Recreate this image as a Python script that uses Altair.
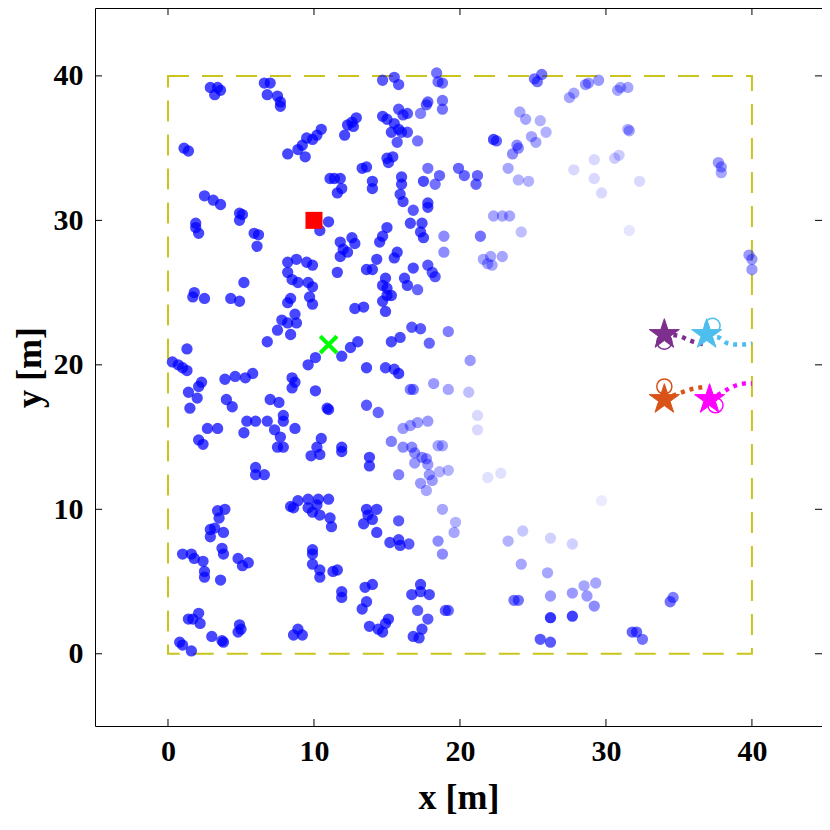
import altair as alt
import pandas as pd

# ---------------- data ----------------
# (x, y, alpha) ; alpha omitted -> fully drawn (0.72)
dots_top_left = [
    (2.9,39.2),(3.4,39.2),(3.2,38.7),(3.6,39.0),
    (6.6,39.5),(7.0,39.5),(6.8,38.7),(7.5,38.6),(7.7,38.2),(7.7,37.9),
    (1.1,35.0),(1.4,34.8),
    (8.2,34.6),(8.9,34.9),(9.4,34.4),(9.5,35.7),(9.2,35.2),
    (2.5,31.7),(3.1,31.4),(3.6,31.1),
    (4.9,30.5),(5.1,30.4),(4.9,30.0),
    (1.9,29.8),(1.9,29.5),(2.1,29.1),
    (5.9,29.1),(6.2,29.0),(6.1,28.2),
    (8.2,27.1),(8.8,27.3),(9.5,27.1),
]
dots_top_mid = [
    (14.7,39.7,0.65),(15.5,39.9,0.65),(15.8,39.4,0.65),
    (18.4,40.2,0.55),(18.5,39.6,0.55),(18.8,39.5,0.55),
    (18.8,38.3,0.55),(18.8,37.7,0.55),(17.8,38.2,0.6),(17.7,38.0,0.6),
    (15.8,37.7,0.65),(16.1,37.3,0.65),(16.4,37.4,0.65),(17.3,37.4,0.5),
    (14.7,37.2,0.7),(15.0,37.0,0.7),(15.5,36.7,0.7),(15.3,36.1,0.7),(15.8,36.3,0.7),
    (16.0,36.1,0.65),(16.4,36.1,0.65),(15.7,35.4,0.65),(17.1,35.5,0.55),
    (12.9,37.1),(12.6,36.8),(12.3,36.6),(12.7,36.5),(12.1,35.9),
    (10.5,36.3),(10.2,35.9),(9.9,35.6),
    (15.0,34.3,0.7),(15.4,34.4,0.7),(15.1,34.0,0.7),
    (13.3,33.6),(13.6,33.7),
    (11.1,32.9),(11.4,32.9),(11.8,32.9),(11.9,32.2),(11.6,31.9),
    (14.0,32.7),(14.0,32.2),
    (16.0,33.0,0.7),(16.0,32.5,0.7),(15.9,31.8,0.7),(16.1,31.3,0.7),(16.8,30.7,0.65),
    (17.5,32.7,0.7),(18.3,32.5,0.55),(18.6,33.1,0.6),(17.8,33.6,0.55),
    (17.8,31.2,0.7),(17.8,30.9,0.7),
    (16.6,29.8,0.7),(17.4,29.8,0.7),(17.3,29.2,0.7),(17.5,28.8,0.7),
    (18.9,28.9,0.45),(18.9,27.8,0.45),
    (11.0,29.9),(10.4,29.3),
    (15.0,29.5),(14.7,28.9),(14.5,28.5),
    (11.8,28.5),(12.6,28.8),(12.8,28.4),(12.0,28.0),(12.3,27.8),(11.8,27.5),
    (15.7,27.8),(15.5,27.4),(14.3,27.3),
]
dots_top_right = [
    (25.1,39.8,0.55),(25.6,40.1,0.55),(25.3,39.6,0.55),
    (27.5,38.5,0.35),(27.8,38.8,0.35),
    (28.6,39.4,0.4),(28.8,39.5,0.4),(29.5,39.7,0.4),
    (24.1,37.5,0.35),(24.5,37.0,0.35),
    (25.5,36.9,0.3),(25.9,36.1,0.3),
    (24.9,35.8,0.35),(25.2,35.4,0.35),
    (22.3,35.6,0.7),(22.5,35.5,0.6),
    (23.9,35.2,0.45),(24.0,35.0,0.45),(23.6,34.6,0.45),
    (23.3,33.6,0.35),
    (24.0,32.8,0.3),(24.7,32.7,0.3),
    (19.9,33.6,0.6),(20.3,33.1,0.6),(21.2,33.1,0.6),(21.1,32.5,0.6),
    (27.8,33.5,0.15),(29.2,34.2,0.15),(29.2,32.9,0.15),(29.7,31.9,0.15),
    (22.3,30.3,0.35),(22.9,30.3,0.35),(23.4,30.3,0.35),
    (24.2,29.2,0.25),
    (21.4,28.9,0.55),
    (21.6,27.3,0.35),(22.1,27.5,0.35),(22.9,27.5,0.35),(21.9,27.0,0.35),(22.2,26.9,0.35),
    (30.8,39.0,0.35),(31.0,39.2,0.35),(31.5,39.2,0.35),
    (31.6,36.2,0.35),(31.5,36.3,0.3),
    (30.6,34.3,0.2),(30.9,34.5,0.2),
    (32.3,32.7,0.15),
    (31.6,29.3,0.1),
    (37.7,34.0,0.4),(37.9,33.7,0.4),(37.9,33.3,0.35),
    (39.8,27.6,0.4),(40.0,27.3,0.4),(40.0,26.6,0.4),
]
dots_mid_left = [
    (9.9,26.9),(11.6,26.4),
    (8.2,26.4),(8.5,25.9),(8.9,25.7),
    (5.2,25.7),
    (1.8,25.0),(1.7,24.7),(2.5,24.6),
    (4.3,24.6),(4.9,24.4),
    (8.4,24.6),(8.2,24.3),
    (8.7,23.5),(7.8,23.1),(8.2,22.9),(8.8,22.9),(8.4,22.1),(7.5,22.4),(6.8,21.6),
    (1.3,21.1),
    (0.3,20.2),(0.7,20.0),(1.0,19.8),(1.3,19.6),
    (2.3,18.8),(2.1,18.5),(1.4,18.1),(2.0,17.7),(1.5,17.0),
    (3.9,19.0),(4.6,19.2),(5.3,19.1),(5.8,19.4),
    (4.0,17.6),(4.4,17.1),
    (7.0,17.6),(7.6,17.4),
    (8.5,19.1),(8.7,18.8),(8.5,18.4),
    (7.9,16.5),(7.9,16.1),
    (8.7,15.6),
    (5.4,16.1),(6.0,16.1),(6.8,16.1),(5.2,15.3),
    (2.7,15.6),(3.4,15.6),
    (2.1,14.8),(2.4,14.5),
    (7.3,15.5),(7.7,15.0),(7.9,14.3),(7.5,14.3),
]
dots_mid_mid = [
    (16.8,26.7,0.7),(17.8,26.9,0.65),(18.1,26.4,0.65),(18.3,26.1,0.65),
    (13.6,26.6),(14.0,26.6),
    (16.2,26.0,0.7),(16.4,25.5,0.7),
    (17.1,25.2,0.6),
    (14.9,26.0),(14.7,25.5),(15.0,25.3),(15.0,24.8),(15.3,24.8),(14.7,24.4),(14.9,23.7),
    (9.9,25.4),(9.6,25.7),(9.7,24.7),(9.9,24.2),
    (12.8,23.9),(13.4,24.0),
    (10.1,20.5),(9.6,20.0),
    (11.9,20.6),(12.5,21.2),(13.0,21.6),
    (13.6,19.8),
    (15.3,21.6,0.7),(15.9,21.9,0.7),(16.7,22.6,0.65),(17.3,22.5,0.65),(17.9,21.5,0.6),(19.2,22.3,0.5),
    (14.9,19.8,0.7),(15.5,19.7,0.7),(15.8,19.4,0.75),
    (16.6,18.3,0.5),(16.8,18.3,0.5),(18.2,18.7,0.4),(19.2,18.3,0.35),
    (10.1,18.2),
    (10.9,17.0),(11.0,16.9),
    (13.6,17.2,0.65),(14.4,16.7,0.6),
    (16.1,15.6,0.4),(16.6,15.8,0.4),(17.1,16.0,0.4),(17.8,16.1,0.4),
    (10.5,14.9),
    (10.2,14.3),(9.8,13.7),(10.4,13.8),
    (11.9,14.3),
    (13.8,13.6),
    (15.3,14.7,0.5),
    (16.1,14.3,0.45),(16.7,14.3,0.45),(16.9,13.9,0.45),(17.4,13.6,0.45),
    (18.5,14.4,0.35),(18.8,14.4,0.35),
    (20.7,20.3,0.4),(20.6,18.1,0.25),(21.2,16.5,0.15),(21.2,15.5,0.15),
]
dots_low_left = [
    (6.0,12.9),(6.0,12.4),(6.6,12.4),
    (8.4,10.2),(8.6,10.1),(8.9,10.6),
    (3.4,9.9),(3.9,10.0),(3.5,9.4),
    (2.9,8.6),(3.2,8.7),(2.9,8.1),(3.8,8.4),
    (1.0,6.9),(1.6,6.9),(1.8,6.6),(2.4,6.4),
    (2.5,5.7),(2.5,5.3),(3.6,5.1),
    (3.7,7.3),(3.8,6.9),
    (4.8,6.6),(5.1,6.1),(5.5,6.3),
    (2.1,2.8),(1.4,2.4),(1.7,2.4),(2.2,2.1),
    (4.9,2.0),(4.8,1.5),(5.0,1.7),
    (3.0,1.2),(3.7,0.9),(3.8,0.8),
    (0.8,0.8),(1.0,0.6),(1.6,0.2),
    (8.6,1.3),(8.9,1.7),(9.2,1.3),
]
dots_low_mid = [
    (11.9,14.0),(13.8,13.0),
    (15.8,12.4,0.5),
    (16.9,13.2,0.4),(17.7,13.5,0.4),(17.8,13.1,0.4),(17.9,12.4,0.4),(18.1,12.0,0.4),
    (17.3,11.8,0.4),(17.7,11.3,0.35),(18.6,12.6,0.3),(19.2,12.7,0.3),
    (18.8,10.0,0.35),(19.7,9.1,0.3),(19.6,8.4,0.35),
    (18.5,7.8,0.45),(18.8,6.9,0.45),
    (9.6,10.7),(10.3,10.7),(11.0,10.7),(9.6,10.1),(10.2,10.3),(9.9,9.8),(10.4,9.6),(11.1,9.4),(11.2,8.8),
    (13.6,10.0),(14.3,10.0),(13.7,9.6),(14.0,9.3),(13.4,9.0),(14.3,8.4),
    (15.8,9.2,0.65),
    (15.2,7.7,0.7),(15.8,7.9,0.7),(15.9,7.5,0.7),(16.5,7.6,0.65),
    (9.9,7.2),(9.9,6.9),(9.9,6.2),
    (10.4,5.8),(10.4,5.3),(11.3,5.7),(11.6,5.8),
    (11.9,4.3),(11.9,3.9),
    (13.5,4.6),(14.0,4.8),
    (13.6,3.6),(13.3,3.1),
    (13.8,1.9),(14.4,1.7),(14.7,1.5),(15.1,2.4),(14.9,2.1),
    (17.3,4.8,0.7),(16.7,4.1,0.7),(17.9,4.1,0.7),(17.3,4.3,0.7),
    (17.1,3.0,0.65),(17.8,2.4,0.65),(17.4,1.7,0.7),(16.8,1.2,0.7),(17.2,1.1,0.7),
    (19.0,3.0,0.6),(19.2,3.0,0.6),
]
dots_low_right = [
    (21.9,12.2,0.12),(22.8,12.5,0.12),
    (29.7,10.6,0.08),
    (23.3,7.8,0.3),(24.3,8.5,0.22),
    (26.2,8.0,0.18),(27.7,7.6,0.18),
    (24.2,6.2,0.35),
    (26.0,5.6,0.35),
    (23.7,3.7,0.55),(24.0,3.7,0.55),
    (26.2,4.0,0.4),
    (26.2,2.5,0.8),
    (27.7,4.2,0.4),(28.5,4.7,0.35),(29.3,4.9,0.35),(28.7,4.0,0.4),(29.2,3.3,0.45),
    (27.7,2.6,0.75),
    (25.5,1.0,0.65),(26.2,0.8,0.65),
    (34.4,3.6,0.55),(34.6,3.9,0.5),
    (31.8,1.5,0.6),(32.1,1.5,0.6),(32.5,1.0,0.55),
]

area_x = [0, 40]
area_y = [0, 40]
anchor_x, anchor_y = [10.0], [30.0]       # red square
target_x, target_y = [11.0], [21.4]       # green cross

agent_names = ["purple", "blue", "orange", "magenta"]
agent_colors = ["#7E2F8E", "#4DBEEE", "#D95319", "#FF00FF"]
star_x = [34.0, 36.9, 34.0, 37.1]
star_y = [22.1, 22.1, 17.6, 17.6]
ring_x = [34.0, 37.3, 34.0, 37.5]
ring_y = [21.6, 22.7, 18.5, 17.2]
path_x = {
    "purple": [34.0, 35.0, 35.7, 36.3, 36.9],
    "blue": [37.0, 37.7, 38.3, 38.8, 39.3, 40.0],
    "orange": [34.0, 35.2, 35.8, 36.3, 36.9],
    "magenta": [37.1, 38.0, 38.5, 39.0, 39.5, 40.0],
}
path_y = {
    "purple": [22.1, 22.0, 21.7, 21.5, 21.4],
    "blue": [22.0, 21.9, 21.5, 21.4, 21.4, 21.5],
    "orange": [17.6, 18.1, 18.3, 18.4, 18.5],
    "magenta": [17.6, 18.1, 18.4, 18.6, 18.7, 18.7],
}
ticks = [0, 10, 20, 30, 40]

# ---------------- tables ----------------
rows = []
for grp in [dots_top_left, dots_top_mid, dots_top_right, dots_mid_left,
            dots_mid_mid, dots_low_left, dots_low_mid, dots_low_right]:
    for t in grp:
        rows.append({"x": t[0], "y": t[1], "a": t[2] if len(t) > 2 else 0.72})
dots = pd.DataFrame(rows)

box = pd.DataFrame({"x": [area_x[0]], "x2": [area_x[1]], "y": [area_y[0]], "y2": [area_y[1]]})
agents = pd.DataFrame({"name": agent_names, "color": agent_colors,
                       "sx": star_x, "sy": star_y, "rx": ring_x, "ry": ring_y})
prow = []
for n in agent_names:
    for i, (px, py) in enumerate(zip(path_x[n], path_y[n])):
        prow.append({"name": n, "x": px, "y": py, "i": i})
paths = pd.DataFrame(prow)
tick_df = pd.DataFrame({"t": ticks})

W, H = 727, 718
XD, YD = [-5, 44.8], [-5, 44.7]
FONT = "Times New Roman, Liberation Serif, serif"

xs = alt.Scale(domain=XD, nice=False, zero=False)
ys = alt.Scale(domain=YD, nice=False, zero=False)
xaxis = alt.Axis(values=ticks, title="x [m]", grid=False, ticks=False, domain=False,
                 labelFont=FONT, labelFontWeight="bold", labelFontSize=30, labelColor="black",
                 labelPadding=10, titleFont=FONT, titleFontWeight="bold", titleFontSize=36,
                 titleColor="black", titlePadding=14)
yaxis = alt.Axis(values=ticks, title="y [m]", grid=False, ticks=False, domain=False,
                 labelFont=FONT, labelFontWeight="bold", labelFontSize=30, labelColor="black",
                 labelPadding=12, titleFont=FONT, titleFontWeight="bold", titleFontSize=36,
                 titleColor="black", titlePadding=5)

base_x = alt.X("x:Q", scale=xs, axis=xaxis)
base_y = alt.Y("y:Q", scale=ys, axis=yaxis)

box_layer = alt.Chart(box).mark_rect(filled=False, stroke="#C9C51E", strokeWidth=2,
                                     strokeDash=[21, 13]).encode(
    x=alt.X("x:Q", scale=xs, axis=xaxis), x2="x2:Q",
    y=alt.Y("y:Q", scale=ys, axis=yaxis), y2="y2:Q")

dot_layer = alt.Chart(dots).mark_circle(size=128, color="#0000FF").encode(
    x=base_x, y=base_y, opacity=alt.Opacity("a:Q", scale=None))

sq_layer = alt.Chart(pd.DataFrame({"x": anchor_x, "y": anchor_y})).mark_square(
    size=290, color="#FF0000", opacity=1).encode(x=base_x, y=base_y)

cross_layer = alt.Chart(pd.DataFrame({"x": target_x, "y": target_y})).mark_point(
    shape="M-1,-1L1,1M-1,1L1,-1", size=280, stroke="#00FF00", strokeWidth=4,
    filled=False, opacity=1).encode(x=base_x, y=base_y)

path_layer = alt.Chart(paths).mark_line(strokeWidth=4.5, strokeDash=[4, 5],
                                        strokeCap="butt", interpolate="monotone").encode(
    x=base_x, y=base_y, detail="name:N", order="i:Q",
    color=alt.Color("color:N", scale=None)).transform_lookup(
    lookup="name", from_=alt.LookupData(agents, "name", ["color"]))

ring_layer = alt.Chart(agents).mark_point(shape="circle", size=230, filled=False,
                                          strokeWidth=1.5, opacity=1).encode(
    x=alt.X("rx:Q", scale=xs, axis=xaxis), y=alt.Y("ry:Q", scale=ys, axis=yaxis),
    stroke=alt.Color("color:N", scale=None))

STAR = ("M0,-1L0.2245,-0.309L0.951,-0.309L0.3633,0.118L0.588,0.809L0,0.382"
        "L-0.588,0.809L-0.3633,0.118L-0.951,-0.309L-0.2245,-0.309Z")
star_layer = alt.Chart(agents).mark_point(shape=STAR, size=1000, filled=True,
                                          strokeWidth=1, opacity=1).encode(
    x=alt.X("sx:Q", scale=xs, axis=xaxis), y=alt.Y("sy:Q", scale=ys, axis=yaxis),
    fill=alt.Color("color:N", scale=None), stroke=alt.Color("color:N", scale=None))

# inward ticks on all four sides
tb = alt.Chart(tick_df).mark_rule(color="black", strokeWidth=1).encode(
    x=alt.X("t:Q", scale=xs, axis=xaxis), y=alt.value(H), y2=alt.value(H - 7))
tt = alt.Chart(tick_df).mark_rule(color="black", strokeWidth=1).encode(
    x=alt.X("t:Q", scale=xs, axis=xaxis), y=alt.value(0), y2=alt.value(7))
tl = alt.Chart(tick_df).mark_rule(color="black", strokeWidth=1).encode(
    y=alt.Y("t:Q", scale=ys, axis=yaxis), x=alt.value(0), x2=alt.value(7))
tr = alt.Chart(tick_df).mark_rule(color="black", strokeWidth=1).encode(
    y=alt.Y("t:Q", scale=ys, axis=yaxis), x=alt.value(W), x2=alt.value(W - 7))

chart = alt.layer(box_layer, dot_layer, sq_layer, cross_layer, path_layer,
                  ring_layer, star_layer, tb, tt, tl, tr).properties(
    width=W, height=H,
    autosize=alt.AutoSizeParams(type="none"),
    padding={"left": 87, "top": 0, "right": 0, "bottom": 96},
    background="white",
).configure_view(stroke="black", strokeWidth=1)

chart.save("out.html", embed_options={"renderer": "svg", "actions": False})
